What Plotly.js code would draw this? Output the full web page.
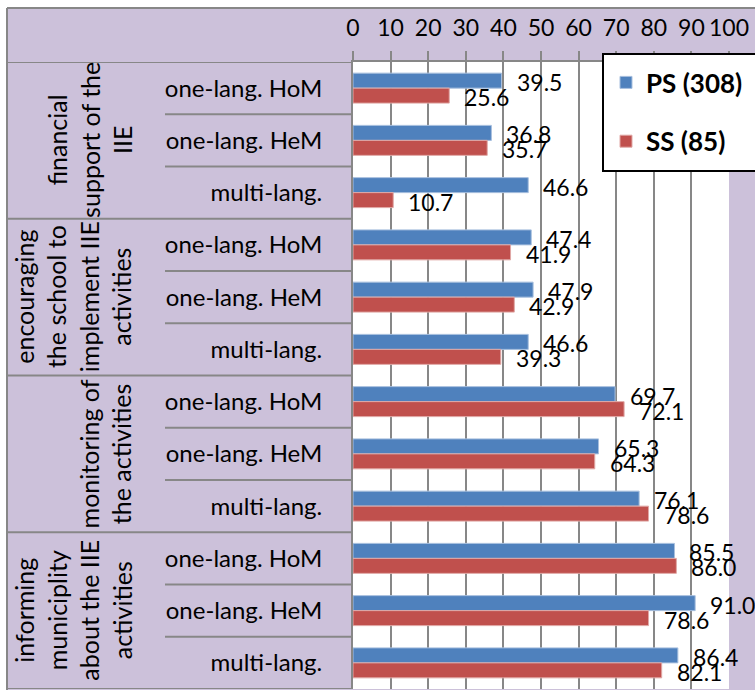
<!DOCTYPE html>
<html><head><meta charset="utf-8">
<script src="https://cdn.plot.ly/plotly-3.0.1.min.js"></script>
<style>html,body{margin:0;padding:0;background:#fff;overflow:hidden}</style>
</head><body><div id="chart" style="width:755px;height:690px"></div>
<script>
// ---- data ----
const groupLabels = [
  "financial<br>support of the<br>IIE",
  "encouraging<br>the school to<br>implement IIE<br>activities",
  "monitoring of<br>the activities",
  "informing<br>municiplity<br>about the IIE<br>activities"
];
const subLabels = ["one-lang. HoM", "one-lang. HeM", "multi-lang."];
const seriesNames = ["PS (308)", "SS (85)"];
const psValues = [39.5, 36.8, 46.6, 47.4, 47.9, 46.6, 69.7, 65.3, 76.1, 85.5, 91.0, 86.4];
const ssValues = [25.6, 35.7, 10.7, 41.9, 42.9, 39.3, 72.1, 64.3, 78.6, 86.0, 78.6, 82.1];
const xTicks = [0, 10, 20, 30, 40, 50, 60, 70, 80, 90, 100];

// ---- layout helpers (pixel -> paper) ----
const L = 353, R = 729, T = 62, B = 689;
const px = v => (v - L) / (R - L);
const py = v => (B - v) / (B - T);

const purple = '#CCC1DA', grid = '#878787';
const blue = '#4F81BD', red = '#C0504D';
const FONT = 'Lato, "Open Sans", sans-serif';

const rowLabels = groupLabels.flatMap(() => subLabels);
const rowIdx = rowLabels.map((_, i) => i);

const traces = [
  {type: 'bar', orientation: 'h', name: seriesNames[0], x: psValues, y: rowIdx,
   legendgroup: 'a', marker: {color: blue, line: {color: '#A7BFDE', width: 1}}, hoverinfo: 'x'},
  {type: 'bar', orientation: 'h', name: seriesNames[1], x: ssValues, y: rowIdx,
   legendgroup: 'b', marker: {color: red, line: {color: '#E0A8A6', width: 1}}, hoverinfo: 'x'}
];

const shapes = [];
// white outer strips
shapes.push({type: 'rect', xref: 'paper', yref: 'paper', x0: px(0), x1: px(755), y0: py(0), y1: py(8),
  fillcolor: '#fff', line: {width: 0}, layer: 'below'});
shapes.push({type: 'rect', xref: 'paper', yref: 'paper', x0: px(0), x1: px(7), y0: py(0), y1: py(690),
  fillcolor: '#fff', line: {width: 0}, layer: 'below'});
// outer borders
shapes.push({type: 'line', xref: 'paper', yref: 'paper', x0: px(7), x1: px(755), y0: py(8), y1: py(8),
  line: {color: grid, width: 2}});
shapes.push({type: 'line', xref: 'paper', yref: 'paper', x0: px(7), x1: px(7), y0: py(8), y1: py(690),
  line: {color: grid, width: 2}});
// row separators in label area
for (let k = 0; k <= rowLabels.length; k++) {
  const isGroup = k % subLabels.length === 0;
  shapes.push({type: 'line', xref: 'paper', yref: 'y', x0: px(isGroup ? 7 : 165), x1: 0,
    y0: k - 0.5, y1: k - 0.5, line: {color: grid, width: 2}});
}
// legend box
shapes.push({type: 'rect', xref: 'paper', yref: 'paper', x0: px(603), x1: px(775), y0: py(54), y1: py(171),
  fillcolor: '#fff', line: {color: '#000', width: 2}, layer: 'above'});

const annotations = [];
groupLabels.forEach((g, gi) => {
  annotations.push({xref: 'paper', yref: 'y', x: px(139), y: gi * subLabels.length + (subLabels.length - 1) / 2,
    xanchor: 'right', yanchor: 'middle', text: g, textangle: -90, showarrow: false, align: 'center',
    font: {family: FONT, size: 25, color: '#000'}});
});
[[psValues, 6], [ssValues, -9]].forEach(([vals, ys]) => {
  vals.forEach((v, i) => {
    annotations.push({xref: 'x', yref: 'y', x: v, y: i, xanchor: 'left', yanchor: 'middle',
      xshift: 13, yshift: ys, text: v.toFixed(1), showarrow: false,
      font: {family: FONT, size: 23, color: '#000'}});
  });
});

const layout = {
  width: 755, height: 690,
  margin: {l: L, r: 755 - R, t: T, b: 690 - B, pad: 0, autoexpand: false},
  paper_bgcolor: purple, plot_bgcolor: '#fff',
  barmode: 'group', bargap: 0.426, bargroupgap: 0,
  font: {family: FONT, color: '#000'},
  xaxis: {range: [0, 100], side: 'top', tickvals: xTicks, ticktext: xTicks.map(String),
    showgrid: true, gridcolor: grid, gridwidth: 2, zeroline: false,
    ticks: 'outside', ticklen: 9, tickwidth: 2, tickcolor: grid,
    showline: true, linecolor: grid, linewidth: 2, ticklabelstandoff: 6,
    tickfont: {family: FONT, size: 23, color: '#000'}, fixedrange: true},
  yaxis: {range: [rowLabels.length - 0.5, -0.5], tickvals: rowIdx, ticktext: rowLabels,
    showgrid: false, zeroline: false, ticks: '', showline: true, linecolor: grid, linewidth: 2,
    ticklabelstandoff: 24, tickfont: {family: FONT, size: 24, color: '#000'}, fixedrange: true},
  showlegend: true,
  legend: {x: px(606), y: py(59), xanchor: 'left', yanchor: 'top', bgcolor: 'rgba(0,0,0,0)',
    borderwidth: 0, traceorder: 'grouped', tracegroupgap: 22,
    font: {family: FONT, size: 26, color: '#000', weight: 'bold'}},
  shapes: shapes, annotations: annotations
};

Plotly.newPlot('chart', traces, layout, {displayModeBar: false, staticPlot: true});
</script>
</body></html>
